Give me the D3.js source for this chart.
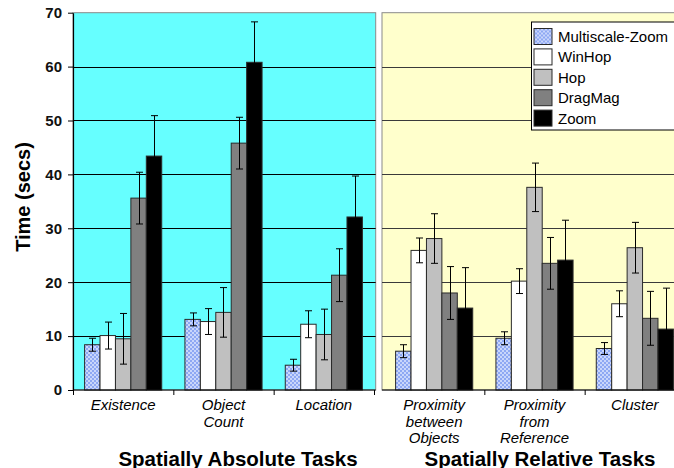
<!DOCTYPE html>
<html>
<head>
<meta charset="utf-8">
<script src="https://cdn.jsdelivr.net/npm/d3@7"></script>
<style>
  body { margin: 0; background: #fff; }
  svg { display: block; font-family: "Liberation Sans", Arial, sans-serif; }
  .axis text { font-size: 15px; font-weight: bold; fill: #111; }
  .axis path, .axis line { stroke: #000; }
  .cat-label { font-size: 15px; font-style: italic; }
  .legend text { font-size: 15px; }
  .group-title { font-size: 20.5px; font-weight: bold; }
  .y-title { font-size: 20px; font-weight: bold; }
</style>
</head>
<body>
<script>
/* global d3 */

// task categories, split across the two panels
let absoluteTasks = [['Existence'], ['Object', 'Count'], ['Location']]
let relativeTasks = [['Proximity', 'between', 'Objects'], ['Proximity', 'from', 'Reference'], ['Cluster']]

let techniques = ['Multiscale-Zoom', 'WinHop', 'Hop', 'DragMag', 'Zoom']

// mean times (secs), order: Existence, Object Count, Location, Prox. between, Prox. from, Cluster
let multiscaleZoomMeans = [8.4, 13.1, 4.6, 7.2, 9.6, 7.7]
let winHopMeans = [10.1, 12.7, 12.2, 25.9, 20.2, 16.0]
let hopMeans = [9.5, 14.4, 10.3, 28.1, 37.6, 26.4]
let dragMagMeans = [35.6, 45.8, 21.3, 18.0, 23.5, 13.3]
let zoomMeans = [43.4, 60.8, 32.1, 15.2, 24.1, 11.3]

// error bar half-lengths (secs)
let multiscaleZoomErr = [1.2, 1.2, 1.1, 1.2, 1.2, 1.1]
let winHopErr = [2.5, 2.4, 2.5, 2.3, 2.3, 2.4]
let hopErr = [4.7, 4.6, 4.7, 4.6, 4.5, 4.7]
let dragMagErr = [4.8, 4.8, 4.9, 4.9, 4.8, 5.0]
let zoomErr = [7.5, 7.5, 7.6, 7.5, 7.4, 7.6]

let yTicks = [0, 10, 20, 30, 40, 50, 60, 70]
let groupTitles = ['Spatially Absolute Tasks', 'Spatially Relative Tasks']

let fills = ['url(#mz-pattern)', '#ffffff', '#c0c0c0', '#808080', '#000000']

function main () {
  let chart = new TaskTimeChart()
  chart.render()
}

class TaskTimeChart {
  constructor () {
    this.dims = {width: 674, height: 468, top: 12.7, bottom: 390}
    this.panels = [
      {cats: absoluteTasks, offset: 0, x0: 73, x1: 374, bgX0: 73, bgX1: 375.7,
        bg: '#66ffff', grid: '#000', ticks: [0, 1, 2, 3], titleX: 238},
      {cats: relativeTasks, offset: 3, x0: 384, x1: 685, bgX0: 382, bgX1: 690,
        bg: '#ffffcc', grid: '#3a3a3a', ticks: [1, 2], titleX: 540},
    ]
    this.series = techniques.map((name, i) => ({
      name,
      fill: fills[i],
      means: [multiscaleZoomMeans, winHopMeans, hopMeans, dragMagMeans, zoomMeans][i],
      errs: [multiscaleZoomErr, winHopErr, hopErr, dragMagErr, zoomErr][i],
    }))
    this.y = d3.scaleLinear().domain([0, 70]).range([this.dims.bottom, this.dims.top])
    this.svg = d3.select('body').append('svg')
      .attr('width', this.dims.width)
      .attr('height', this.dims.height)
    this.genDefs()
  }

  genDefs () {
    let pat = this.svg.append('defs').append('pattern')
      .attr('id', 'mz-pattern')
      .attr('patternUnits', 'userSpaceOnUse')
      .attr('width', 4).attr('height', 4)
    pat.append('rect').attr('width', 4).attr('height', 4).attr('fill', '#8ea8f3')
    pat.append('rect').attr('width', 2).attr('height', 2).attr('fill', '#c9d6fb')
    pat.append('rect').attr('x', 2).attr('y', 2).attr('width', 2).attr('height', 2).attr('fill', '#c9d6fb')
  }

  render () {
    for (let panel of this.panels) this.renderPanel(panel)
    this.renderYAxis()
    this.renderLegend()
  }

  renderPanel (panel) {
    let y = this.y
    let g = this.svg.append('g')
    let names = panel.cats.map(c => c.join(' '))
    let x = d3.scaleBand().domain(names).range([panel.x0, panel.x1]).padding(0)
    let inner = d3.scaleBand().domain(techniques)
      .range([11.6, x.bandwidth() - 11.6]).padding(0)

    g.append('rect')
      .attr('x', panel.bgX0).attr('y', y(70))
      .attr('width', panel.bgX1 - panel.bgX0).attr('height', y(0) - y(70))
      .attr('fill', panel.bg)
      .attr('stroke', '#8a8a8a').attr('stroke-width', 1)

    g.append('g').selectAll('line')
      .data(yTicks.filter(t => t > 0 && t < 70))
      .join('line')
      .attr('x1', panel.bgX0).attr('x2', panel.bgX1)
      .attr('y1', d => Math.round(y(d)) + 0.5).attr('y2', d => Math.round(y(d)) + 0.5)
      .attr('stroke', panel.grid)

    let rows = []
    names.forEach((name, ci) => {
      this.series.forEach(s => {
        rows.push({cat: name, tech: s.name, fill: s.fill,
          mean: s.means[panel.offset + ci], err: s.errs[panel.offset + ci]})
      })
    })

    g.append('g').selectAll('rect')
      .data(rows)
      .join('rect')
      .attr('x', d => x(d.cat) + inner(d.tech))
      .attr('y', d => y(d.mean))
      .attr('width', inner.bandwidth())
      .attr('height', d => y(0) - y(d.mean))
      .attr('fill', d => d.fill)
      .attr('stroke', '#2a2a2a').attr('stroke-width', 1)

    let errG = g.append('g').attr('stroke', '#000').attr('stroke-width', 1)
    let cx = d => Math.round(x(d.cat) + inner(d.tech) + inner.bandwidth() / 2) + 0.5
    errG.selectAll('line.stem').data(rows).join('line').attr('class', 'stem')
      .attr('x1', cx).attr('x2', cx)
      .attr('y1', d => y(d.mean + d.err)).attr('y2', d => y(d.mean - d.err))
    errG.selectAll('line.cap-hi').data(rows).join('line').attr('class', 'cap-hi')
      .attr('x1', d => cx(d) - 3.5).attr('x2', d => cx(d) + 3.5)
      .attr('y1', d => y(d.mean + d.err)).attr('y2', d => y(d.mean + d.err))
    errG.selectAll('line.cap-lo').data(rows).join('line').attr('class', 'cap-lo')
      .attr('x1', d => cx(d) - 3.5).attr('x2', d => cx(d) + 3.5)
      .attr('y1', d => y(d.mean - d.err)).attr('y2', d => y(d.mean - d.err))

    // bottom axis with ticks on category boundaries
    let xb = d3.scaleLinear().domain([0, 3]).range([panel.x0, panel.x1])
    let axisG = g.append('g').attr('class', 'axis')
      .attr('transform', `translate(0, ${y(0)})`)
    axisG.append('line')
      .attr('x1', panel.bgX0).attr('x2', Math.min(panel.bgX1, 674))
      .attr('stroke', '#000').attr('stroke-width', 1.2)
    axisG.call(d3.axisBottom(xb).tickValues(panel.ticks).tickFormat('').tickSize(5).tickSizeOuter(0))
    axisG.select('.domain').remove()

    let labels = g.append('g').selectAll('text')
      .data(panel.cats)
      .join('text')
      .attr('class', 'cat-label')
      .attr('text-anchor', 'middle')
      .attr('x', (d, i) => x(names[i]) + x.bandwidth() / 2)
      .attr('y', 410)
    labels.selectAll('tspan')
      .data(d => d)
      .join('tspan')
      .attr('x', function () { return d3.select(this.parentNode).attr('x') })
      .attr('dy', (d, i) => i === 0 ? 0 : 16.5)
      .text(d => d)

    g.append('text')
      .attr('class', 'group-title')
      .attr('text-anchor', 'middle')
      .attr('x', panel.titleX).attr('y', 465.5)
      .text(groupTitles[panel.offset ? 1 : 0])
  }

  renderYAxis () {
    let axisG = this.svg.append('g').attr('class', 'axis')
      .attr('transform', 'translate(73, 0)')
      .call(d3.axisLeft(this.y).tickValues(yTicks).tickSize(5).tickPadding(6).tickSizeOuter(0))
    axisG.select('.domain').attr('stroke-width', 1.2)
    axisG.selectAll('text').attr('font-family', null).attr('font-size', null)

    this.svg.append('text')
      .attr('class', 'y-title')
      .attr('text-anchor', 'middle')
      .attr('transform', 'translate(30, 197) rotate(-90)')
      .text('Time (secs)')
  }

  renderLegend () {
    let lg = this.svg.append('g').attr('class', 'legend')
      .attr('transform', 'translate(531, 21.5)')
    lg.append('rect')
      .attr('x', 0.5).attr('y', 0.5)
      .attr('width', 170).attr('height', 108)
      .attr('fill', '#fff').attr('stroke', '#000')
    let rowY = d3.scaleBand().domain(techniques).range([5, 107]).padding(0)
    let items = lg.selectAll('g.item')
      .data(this.series)
      .join('g').attr('class', 'item')
      .attr('transform', d => `translate(0, ${rowY(d.name)})`)
    items.append('rect')
      .attr('x', 3).attr('y', 2)
      .attr('width', 18).attr('height', 16)
      .attr('fill', d => d.fill)
      .attr('stroke', '#2a2a2a')
    items.append('text')
      .attr('x', 27).attr('y', 15.5)
      .text(d => d.name)
  }
}

main()
</script>
</body>
</html>
